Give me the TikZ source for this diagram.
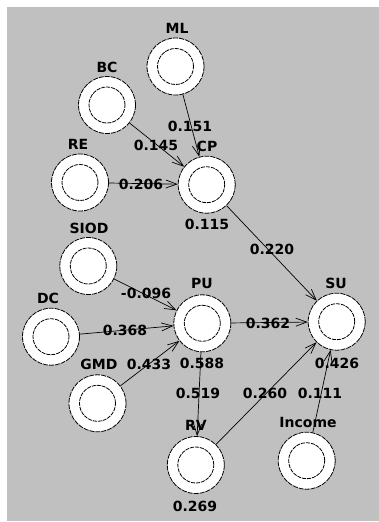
\documentclass[tikz,border=0pt]{standalone}
\usepackage{fontspec}
\setmainfont{DejaVu Sans}
\usetikzlibrary{arrows.meta}
\definecolor{bggray}{RGB}{192,192,192}
\begin{document}
\begin{tikzpicture}[x=1pt,y=-1pt,
  var/.style={circle,draw=black,fill=white,line width=0.8pt,dash pattern=on 5pt off 1pt,
    minimum size=57pt,inner sep=0pt,
    path picture={\draw[line width=0.8pt,dash pattern=on 4pt off 1pt] (path picture bounding box.center) circle (18pt);}},
  conn/.style={draw=black,line width=0.7pt,-{Straight Barb[length=11pt,width=8pt]}},
  txt/.style={font=\bfseries\fontsize{14}{16}\selectfont,inner sep=0pt,text=black}
]
\useasboundingbox (0,0) rectangle (379,522);
\fill[bggray] (7,7) rectangle (379,521);

% variables
\node[var] (ML) at (175.5,66.5) {};
\node[var] (BC) at (107,105) {};
\node[var] (RE) at (80,182.5) {};
\node[var] (CP) at (206.7,184.7) {};
\node[var] (SIOD) at (88.3,266) {};
\node[var] (DC) at (51,336.7) {};
\node[var] (PU) at (202.3,323.3) {};
\node[var] (SU) at (336.7,321.7) {};
\node[var] (GMD) at (97.5,403.3) {};
\node[var] (RV) at (195.8,465) {};
\node[var] (Inc) at (306.7,460.7) {};

% connectors
\draw[conn] (ML) -- (CP);
\draw[conn] (BC) -- (CP);
\draw[conn] (RE) -- (CP);
\draw[conn] (CP) -- (SU);
\draw[conn] (SIOD) -- (PU);
\draw[conn] (DC) -- (PU);
\draw[conn] (GMD) -- (PU);
\draw[conn] (PU) -- (SU);
\draw[conn] (PU) -- (RV);
\draw[conn] (RV) -- (SU);
\draw[conn] (Inc) -- (SU);

% names
\node[txt] (tML) at (177,28) {ML};
\node[txt] (tBC) at (107,67) {BC};
\node[txt] (tRE) at (78,144) {RE};
\node[txt] (tCP) at (207,146) {CP};
\node[txt] (tSIOD) at (89,228) {SIOD};
\node[txt] (tDC) at (48,298) {DC};
\node[txt] (tPU) at (202,283) {PU};
\node[txt] (tSU) at (336,283) {SU};
\node[txt] (tGMD) at (99,364) {GMD};
\node[txt] (tRV) at (196,425) {RV};
\node[txt] (tInc) at (308,422) {Income};

% R squared values
\node[txt] (vCP) at (207,224) {0.115};
\node[txt] (vPU) at (202,363) {0.588};
\node[txt] (vSU) at (337,363) {0.426};
\node[txt] (vRV) at (195,506) {0.269};

% path coefficients
\node[txt] (e1) at (190,126) {0.151};
\node[txt] (e2) at (156,145) {0.145};
\node[txt] (e3) at (141,184) {0.206};
\node[txt] (e4) at (272,249) {0.220};
\node[txt] (e5) at (146,293) {-0.096};
\node[txt] (e6) at (125,330) {0.368};
\node[txt] (e7) at (149,364) {0.433};
\node[txt] (e8) at (268,323) {0.362};
\node[txt] (e9) at (198,393) {0.519};
\node[txt] (e10) at (265,393) {0.260};
\node[txt] (e11) at (320,393) {0.111};
\end{tikzpicture}
\end{document}
